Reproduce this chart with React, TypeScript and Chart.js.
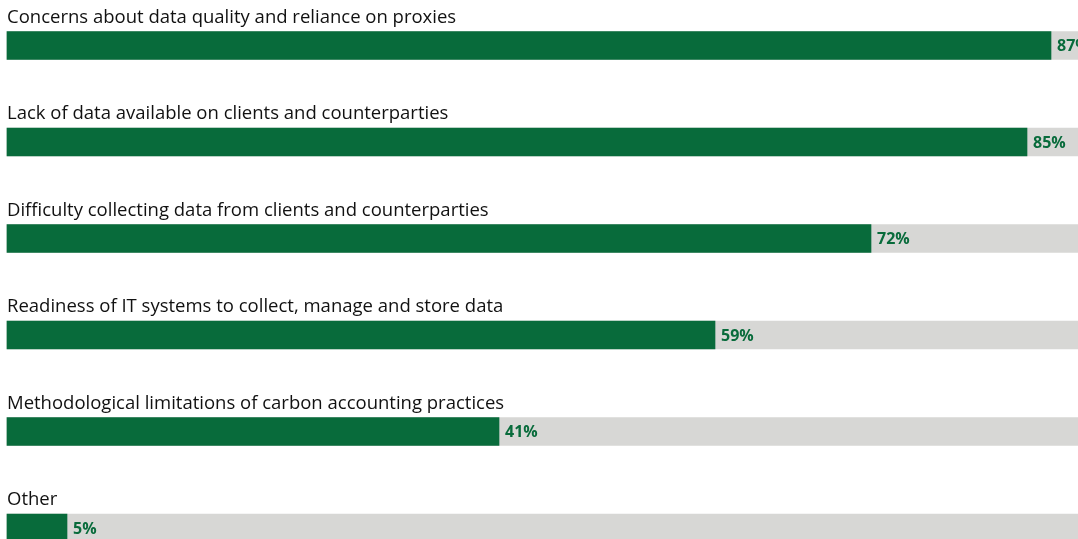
import React, { useEffect, useRef } from "react";
import { Chart, registerables } from "chart.js";

Chart.register(...registerables);

const categories: string[] = [
  "Concerns about data quality and reliance on proxies",
  "Lack of data available on clients and counterparties",
  "Difficulty collecting data from clients and counterparties",
  "Readiness of IT systems to collect, manage and store data",
  "Methodological limitations of carbon accounting practices",
  "Other",
];
const values: number[] = [87, 85, 72, 59, 41, 5];
const totals: number[] = [100, 100, 100, 100, 100, 100];

const GREEN = "#086b3b";
const GRAY = "#d7d7d5";

const labelPlugin = {
  id: "labelPlugin",
  afterDatasetsDraw(chart: any) {
    const ctx = chart.ctx;
    const meta = chart.getDatasetMeta(0);
    ctx.save();
    meta.data.forEach((bar: any, i: number) => {
      const top = bar.y - bar.height / 2;
      ctx.font = "18.5px 'Open Sans'";
      ctx.fillStyle = "#111111";
      ctx.textAlign = "left";
      ctx.textBaseline = "alphabetic";
      ctx.fillText(categories[i], chart.chartArea.left, top - 9);
      ctx.font = "bold 16px 'Open Sans'";
      ctx.fillStyle = GREEN;
      ctx.textBaseline = "middle";
      ctx.fillText(values[i] + "%", bar.x + 6, bar.y + 1);
    });
    ctx.restore();
  },
};

export default function App() {
  const ref = useRef<HTMLCanvasElement>(null);
  useEffect(() => {
    document.body.style.margin = "0";
    document.body.style.overflow = "hidden";
    const chart = new Chart(ref.current!, {
      type: "bar",
      data: {
        labels: categories,
        datasets: [
          {
            data: values,
            backgroundColor: GREEN,
            barThickness: 28,
            grouped: false,
            clip: false,
            borderWidth: 0,
          } as any,
          {
            data: totals,
            backgroundColor: GRAY,
            barThickness: 28,
            grouped: false,
            clip: false,
            borderWidth: 0,
          } as any,
        ],
      },
      options: {
        indexAxis: "y",
        animation: false,
        responsive: false,
        layout: { padding: { left: 7, right: 0, top: 45.5, bottom: 11 } },
        plugins: { legend: { display: false }, tooltip: { enabled: false } },
        scales: {
          x: { display: false, min: 0, max: 89.25 },
          y: { display: false, offset: false, grid: { display: false } },
        },
      },
      plugins: [labelPlugin],
    });
    return () => chart.destroy();
  }, []);
  return (
    <div style={{ width: 1078, height: 539 }}>
      <canvas ref={ref} width={1078} height={539} style={{ display: "block" }} />
    </div>
  );
}
